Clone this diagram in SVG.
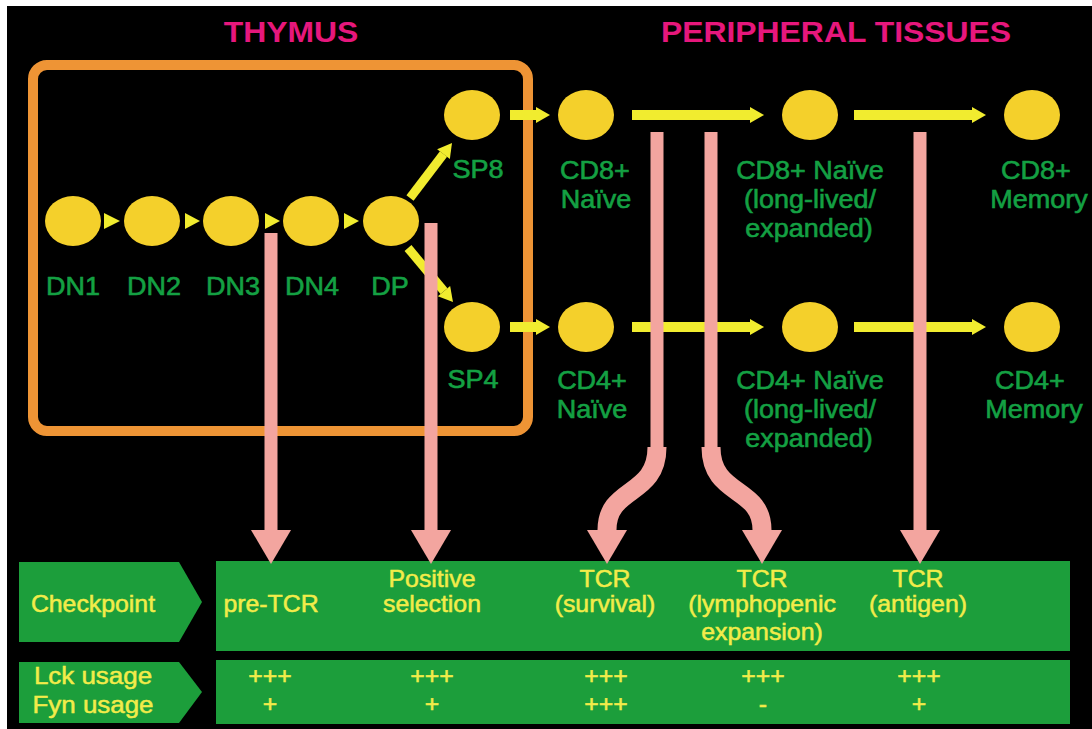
<svg xmlns="http://www.w3.org/2000/svg" width="1092" height="729" viewBox="0 0 1092 729">
<style>
.t{font-family:"Liberation Sans",Arial,Helvetica,sans-serif;text-anchor:middle;transform-box:fill-box;transform-origin:center;transform:scaleX(1.08)}
.title{font-size:29px;font-weight:bold;fill:#e6177c;transform:scaleX(1.1)}
.lab{font-size:25px;fill:#14a043;stroke:#14a043;stroke-width:0.6}
.pt{font-size:23px;fill:#f2ec4a;stroke:#f2ec4a;stroke-width:0.5}
.big{font-size:24px}
.cell{fill:#1c9e3b}
.cir{fill:#f4d02b}
.ya{stroke:#f1ec2f;stroke-width:10;fill:none}
.yd{stroke:#f1ec2f;stroke-width:9;fill:none}
.tri{fill:#f1ec2f}
.pk{stroke:#f3a59f;stroke-width:13;fill:none}
.pkw{stroke:#f3a59f;stroke-width:19;fill:none}
</style>
<defs>
<marker id="yh" markerUnits="userSpaceOnUse" markerWidth="16" markerHeight="18" refX="0" refY="8" orient="auto" overflow="visible">
<path d="M0,0 L14,8 L0,16 z" fill="#f1ec2f"/>
</marker>
<marker id="ph" markerUnits="userSpaceOnUse" markerWidth="36" markerHeight="42" refX="0" refY="20" orient="auto" overflow="visible">
<path d="M0,0 L34,20 L0,40 z" fill="#f3a59f"/>
</marker>
</defs>
<rect x="0" y="0" width="1092" height="729" fill="#ffffff"/>
<rect x="7" y="6" width="1085" height="723" fill="#000000"/>

<g id="titles">
<text class="t title" x="291" y="42">THYMUS</text>
<text class="t title" x="836" y="42">PERIPHERAL TISSUES</text>
</g>

<g id="thymus-box">
<rect x="33" y="65" width="495" height="366" rx="14" fill="none" stroke="#ee9435" stroke-width="10"/>
</g>

<g id="checkpoint-panel">
<path class="cell" d="M19,562 L179,562 L202,602 L179,642 L19,642 z"/>
<rect class="cell" x="216" y="561" width="854" height="90"/>
<text class="t pt" x="93" y="612">Checkpoint</text>
<text class="t pt" x="271" y="612">pre-TCR</text>
<text class="t pt" x="432" y="587">Positive</text>
<text class="t pt" x="432" y="612">selection</text>
<text class="t pt" x="605" y="587">TCR</text>
<text class="t pt" x="605" y="612">(survival)</text>
<text class="t pt" x="762" y="587">TCR</text>
<text class="t pt" x="762" y="612">(lymphopenic</text>
<text class="t pt" x="762" y="640">expansion)</text>
<text class="t pt" x="918" y="587">TCR</text>
<text class="t pt" x="918" y="612">(antigen)</text>
</g>

<g id="usage-panel">
<path class="cell" d="M19,662 L179,662 L202,692 L179,723 L19,723 z"/>
<rect class="cell" x="216" y="660" width="854" height="64"/>
<text class="t pt big" x="93" y="684">Lck usage</text>
<text class="t pt big" x="93" y="713">Fyn usage</text>
<text class="t pt" x="270" y="684">+++</text>
<text class="t pt" x="270" y="712">+</text>
<text class="t pt" x="432" y="684">+++</text>
<text class="t pt" x="432" y="712">+</text>
<text class="t pt" x="606" y="684">+++</text>
<text class="t pt" x="606" y="712">+++</text>
<text class="t pt" x="763" y="684">+++</text>
<text class="t pt" x="763" y="712">-</text>
<text class="t pt" x="919" y="684">+++</text>
<text class="t pt" x="919" y="712">+</text>
</g>

<g id="connectors">
<polygon class="tri" points="104,213 120,221 104,229"/>
<polygon class="tri" points="185,213 200,221 185,229"/>
<polygon class="tri" points="265,213 280,221 265,229"/>
<polygon class="tri" points="344,213 359,221 344,229"/>
<line class="yd" x1="410" y1="198" x2="443.5" y2="154.1" marker-end="url(#yh)"/>
<line class="yd" x1="408" y1="248" x2="444" y2="291.2" marker-end="url(#yh)"/>
<line class="ya" x1="510" y1="115" x2="536" y2="115" marker-end="url(#yh)"/>
<line class="ya" x1="632" y1="115" x2="750" y2="115" marker-end="url(#yh)"/>
<line class="ya" x1="854" y1="115" x2="972" y2="115" marker-end="url(#yh)"/>
<line class="ya" x1="510" y1="327" x2="536" y2="327" marker-end="url(#yh)"/>
<line class="ya" x1="632" y1="327" x2="750" y2="327" marker-end="url(#yh)"/>
<line class="ya" x1="854" y1="327" x2="972" y2="327" marker-end="url(#yh)"/>
<line class="pk" x1="271" y1="233" x2="271" y2="530" marker-end="url(#ph)"/>
<line class="pk" x1="431" y1="223" x2="431" y2="530" marker-end="url(#ph)"/>
<line class="pk" x1="657" y1="132" x2="657" y2="449"/>
<path class="pkw" d="M657,447 C657,497 607,486 607,530" marker-end="url(#ph)"/>
<line class="pk" x1="711" y1="132" x2="711" y2="449"/>
<path class="pkw" d="M711,447 C711,497 762,486 762,530" marker-end="url(#ph)"/>
<line class="pk" x1="920" y1="132" x2="920" y2="530" marker-end="url(#ph)"/>
</g>

<g id="DN1"><ellipse class="cir" cx="73" cy="221" rx="28" ry="25"/><text class="t lab" x="73" y="295">DN1</text></g>
<g id="DN2"><ellipse class="cir" cx="152" cy="221" rx="28" ry="25"/><text class="t lab" x="154" y="295">DN2</text></g>
<g id="DN3"><ellipse class="cir" cx="231" cy="221" rx="28" ry="25"/><text class="t lab" x="233" y="295">DN3</text></g>
<g id="DN4"><ellipse class="cir" cx="311" cy="221" rx="28" ry="25"/><text class="t lab" x="312" y="295">DN4</text></g>
<g id="DP"><ellipse class="cir" cx="391" cy="221" rx="28" ry="25"/><text class="t lab" x="390" y="295">DP</text></g>
<g id="SP8"><ellipse class="cir" cx="472" cy="115" rx="28" ry="25"/><text class="t lab" x="478" y="178">SP8</text></g>
<g id="SP4"><ellipse class="cir" cx="472" cy="327" rx="28" ry="25"/><text class="t lab" x="473" y="388">SP4</text></g>
<g id="CD8-naive"><ellipse class="cir" cx="586" cy="115" rx="28" ry="25"/><text class="t lab" x="595" y="179">CD8+</text><text class="t lab" x="596" y="208">Naïve</text></g>
<g id="CD8-naive-long"><ellipse class="cir" cx="810" cy="115" rx="28" ry="25"/><text class="t lab" x="810" y="179">CD8+ Naïve</text><text class="t lab" x="810" y="208">(long-lived/</text><text class="t lab" x="809" y="237">expanded)</text></g>
<g id="CD8-memory"><ellipse class="cir" cx="1032" cy="115" rx="28" ry="25"/><text class="t lab" x="1036" y="179">CD8+</text><text class="t lab" x="1039" y="208">Memory</text></g>
<g id="CD4-naive"><ellipse class="cir" cx="586" cy="327" rx="28" ry="25"/><text class="t lab" x="592" y="389">CD4+</text><text class="t lab" x="592" y="418">Naïve</text></g>
<g id="CD4-naive-long"><ellipse class="cir" cx="810" cy="327" rx="28" ry="25"/><text class="t lab" x="810" y="389">CD4+ Naïve</text><text class="t lab" x="810" y="418">(long-lived/</text><text class="t lab" x="809" y="447">expanded)</text></g>
<g id="CD4-memory"><ellipse class="cir" cx="1032" cy="327" rx="28" ry="25"/><text class="t lab" x="1030" y="389">CD4+</text><text class="t lab" x="1034" y="418">Memory</text></g>
</svg>
